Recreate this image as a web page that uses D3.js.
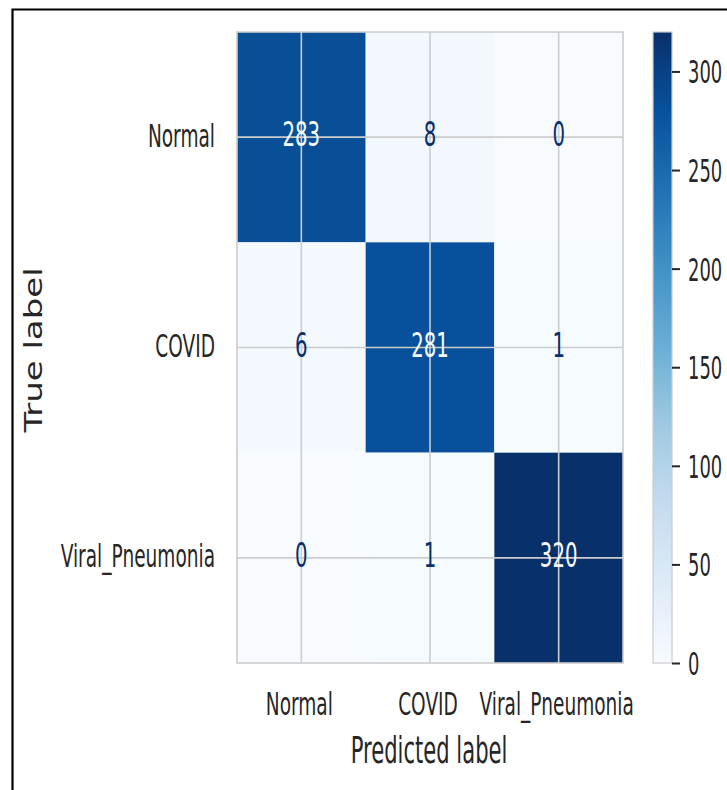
<!DOCTYPE html>
<html>
<head>
<meta charset="utf-8">
<script src="https://cdn.jsdelivr.net/npm/d3@7/dist/d3.min.js"></script>
<style>
    html, body { margin: 0; padding: 0; background: #fff; }
    text { font-family: 'DejaVu Sans', sans-serif; }
</style>
</head>
<body>
<div id="confusionMatrix"></div>
<script>
// class names, same order for true and predicted
var classes = ['Normal', 'COVID', 'Viral_Pneumonia'];

// rows = true label, columns = predicted label
var rowNormal = [283, 8, 0];
var rowCovid = [6, 281, 1];
var rowViral = [0, 1, 320];

var colorbarTicks = [0, 50, 100, 150, 200, 250, 300];

// matplotlib "Blues" stops
var bluesColors = ['#f7fbff', '#deebf7', '#c6dbef', '#9ecae1', '#6baed6',
    '#4292c6', '#2171b5', '#08519c', '#08306b'];

var matrix = [rowNormal, rowCovid, rowViral];

var svg = d3.select('#confusionMatrix')
    .append('svg')
    .attr('width', 727)
    .attr('height', 790);

// outer frame
svg.append('path')
    .attr('d', 'M12.5,800V9.5H740')
    .attr('fill', 'none')
    .attr('stroke', '#000')
    .attr('stroke-width', 2.2);

var plot = {left: 237, right: 623, top: 32, bottom: 663};
var cbar = {left: 653, right: 672};
var sx = 0.58;  // glyphs are squeezed horizontally in the reference

var vmin = 0,
    vmax = d3.max(matrix, function (r) { return d3.max(r); });

var x = d3.scaleBand()
    .domain(classes)
    .range([plot.left, plot.right]);

var y = d3.scaleBand()
    .domain(classes)
    .range([plot.top, plot.bottom]);

var color = d3.scaleLinear()
    .domain(d3.range(bluesColors.length).map(function (i) {
        return vmin + (vmax - vmin) * i / (bluesColors.length - 1);
    }))
    .range(bluesColors)
    .interpolate(d3.interpolateRgb);

var cells = [];
matrix.forEach(function (row, i) {
    row.forEach(function (v, j) {
        cells.push({t: classes[i], p: classes[j], v: v});
    });
});

// 画格子
svg.append('g')
    .selectAll('rect')
    .data(cells)
    .enter()
    .append('rect')
    .attr('x', function (d) { return x(d.p); })
    .attr('y', function (d) { return y(d.t); })
    .attr('width', x.bandwidth())
    .attr('height', y.bandwidth())
    .attr('fill', function (d) { return color(d.v); });

// grid lines on top of the cells
var grid = svg.append('g')
    .attr('stroke', '#cccccc')
    .attr('stroke-width', 1.6);

grid.selectAll('line.gx')
    .data(classes)
    .enter()
    .append('line')
    .attr('x1', function (d) { return x(d) + x.bandwidth() / 2; })
    .attr('x2', function (d) { return x(d) + x.bandwidth() / 2; })
    .attr('y1', plot.top)
    .attr('y2', plot.bottom);

grid.selectAll('line.gy')
    .data(classes)
    .enter()
    .append('line')
    .attr('y1', function (d) { return y(d) + y.bandwidth() / 2; })
    .attr('y2', function (d) { return y(d) + y.bandwidth() / 2; })
    .attr('x1', plot.left)
    .attr('x2', plot.right);

svg.append('rect')
    .attr('x', plot.left)
    .attr('y', plot.top)
    .attr('width', plot.right - plot.left)
    .attr('height', plot.bottom - plot.top)
    .attr('fill', 'none')
    .attr('stroke', '#cccccc')
    .attr('stroke-width', 1.6);

// cell values
var thresh = (vmax + vmin) / 2;
svg.append('g')
    .selectAll('text')
    .data(cells)
    .enter()
    .append('text')
    .attr('transform', function (d) {
        return 'translate(' + (x(d.p) + x.bandwidth() / 2) + ',' +
            (y(d.t) + y.bandwidth() / 2 - 3) + ') scale(' + sx + ',1)';
    })
    .attr('text-anchor', 'middle')
    .attr('dy', '0.36em')
    .attr('font-size', 34)
    .attr('fill', function (d) {
        return d.v < thresh ? color(vmax) : color(vmin);
    })
    .text(function (d) { return d.v; });

// x tick labels
svg.append('g')
    .selectAll('text')
    .data(classes)
    .enter()
    .append('text')
    .attr('transform', function (d) {
        return 'translate(' + (x(d) + x.bandwidth() / 2 - 2) + ',715) scale(' + sx + ',1)';
    })
    .attr('text-anchor', 'middle')
    .attr('font-size', 32)
    .attr('fill', '#262626')
    .text(function (d) { return d; });

// y tick labels
svg.append('g')
    .selectAll('text')
    .data(classes)
    .enter()
    .append('text')
    .attr('transform', function (d) {
        return 'translate(215,' + (y(d) + y.bandwidth() / 2 - 2) + ') scale(' + sx + ',1)';
    })
    .attr('text-anchor', 'end')
    .attr('dy', '0.36em')
    .attr('font-size', 32)
    .attr('fill', '#262626')
    .text(function (d) { return d; });

svg.append('text')
    .attr('transform', 'translate(429,763) scale(0.57,1)')
    .attr('text-anchor', 'middle')
    .attr('font-size', 37)
    .attr('fill', '#262626')
    .text('Predicted label');

svg.append('text')
    .attr('transform', 'translate(42,350) scale(0.72,1) rotate(-90)')
    .attr('text-anchor', 'middle')
    .attr('font-size', 34)
    .attr('fill', '#262626')
    .text('True label');

// colorbar
var cy = d3.scaleLinear()
    .domain([vmin, vmax])
    .range([plot.bottom, plot.top]);

var grad = svg.append('defs')
    .append('linearGradient')
    .attr('id', 'bluesGrad')
    .attr('x1', 0).attr('y1', 1)
    .attr('x2', 0).attr('y2', 0);

grad.selectAll('stop')
    .data(color.domain())
    .enter()
    .append('stop')
    .attr('offset', function (d) { return (d - vmin) / (vmax - vmin); })
    .attr('stop-color', function (d) { return color(d); });

svg.append('rect')
    .attr('x', cbar.left)
    .attr('y', cy(vmax))
    .attr('width', cbar.right - cbar.left)
    .attr('height', cy(vmin) - cy(vmax))
    .attr('fill', 'url(#bluesGrad)')
    .attr('stroke', '#cccccc')
    .attr('stroke-width', 1.2);

var cAxis = svg.append('g')
    .attr('transform', 'translate(' + cbar.right + ',0)')
    .call(d3.axisRight(cy).tickValues(colorbarTicks).tickSize(8).tickPadding(8));

cAxis.select('.domain').remove();
cAxis.selectAll('.tick line')
    .attr('stroke', '#262626')
    .attr('stroke-width', 2);
cAxis.selectAll('.tick text')
    .attr('font-family', 'DejaVu Sans, sans-serif')
    .attr('font-size', 32)
    .attr('fill', '#262626')
    .attr('x', 0)
    .attr('dy', '0.36em')
    .attr('transform', 'translate(16,0) scale(0.56,1)');
</script>
</body>
</html>
